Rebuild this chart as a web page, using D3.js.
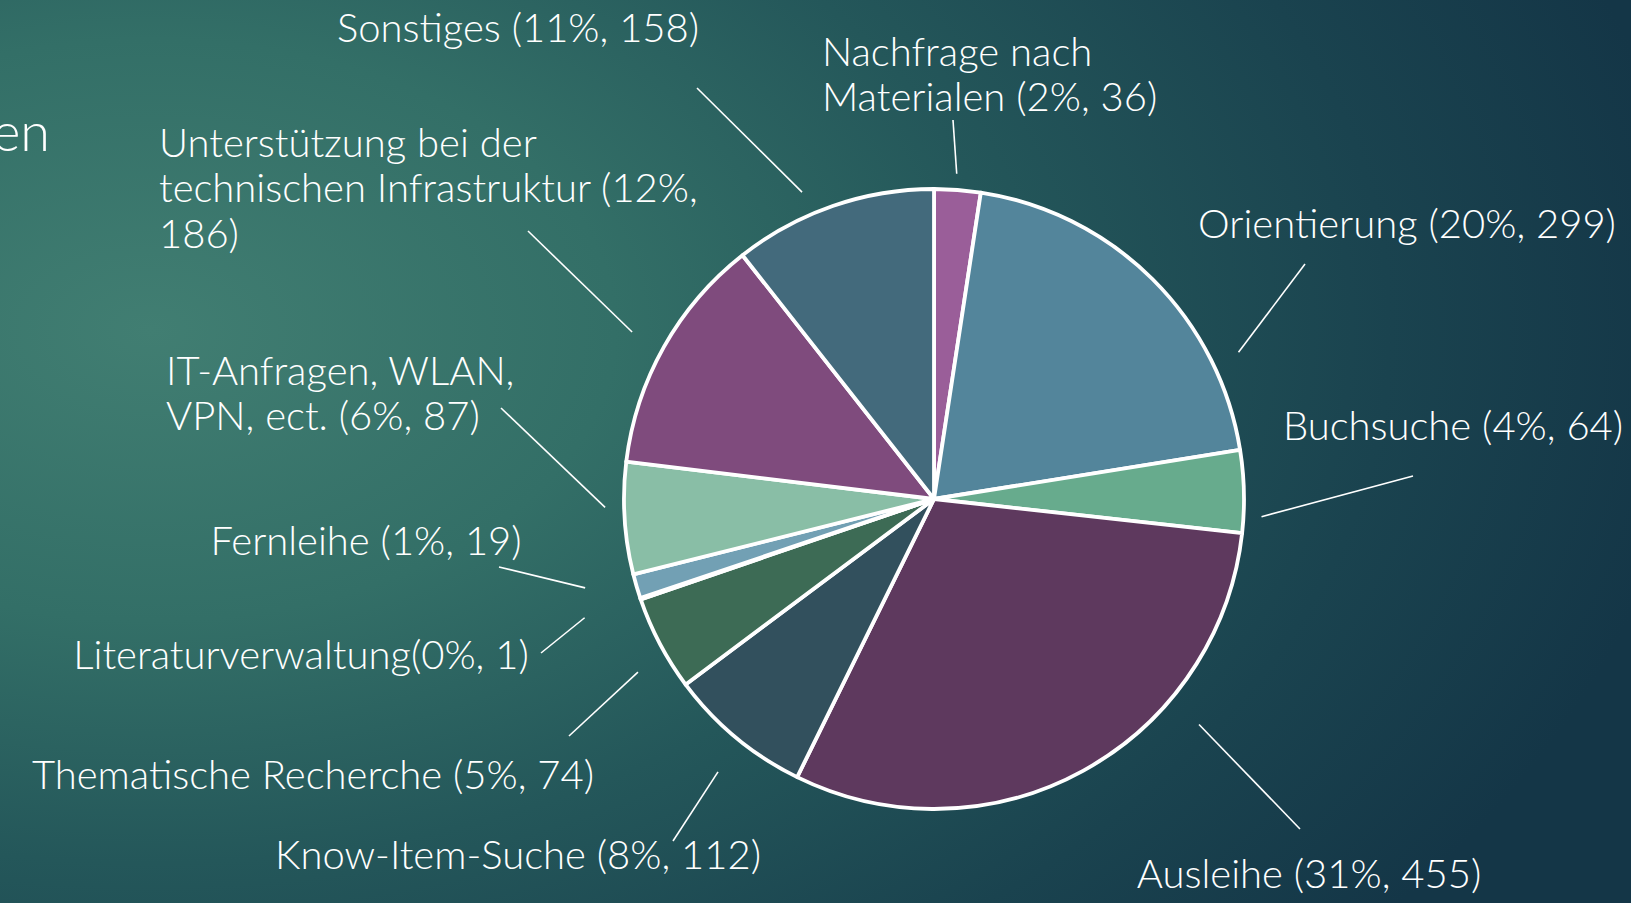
<!DOCTYPE html>
<html>
<head>
<meta charset="utf-8">
<script src="https://cdn.jsdelivr.net/npm/d3@7"></script>
<style>
  html, body { margin: 0; padding: 0; overflow: hidden; background: #143647; }
  text { font-family: Lato, Roboto, 'Noto Sans', sans-serif; font-weight: 300; fill: #ffffff; }
</style>
</head>
<body>
<div id="chart"></div>
<script>
'use strict'

// data, clockwise from 12 o'clock
const categories = [
  'Nachfrage nach Materialen',
  'Orientierung',
  'Buchsuche',
  'Ausleihe',
  'Know-Item-Suche',
  'Thematische Recherche',
  'Literaturverwaltung',
  'Fernleihe',
  'IT-Anfragen, WLAN, VPN, ect.',
  'Unterstützung bei der technischen Infrastruktur',
  'Sonstiges'];
const counts = [36, 299, 64, 455, 112, 74, 1, 19, 87, 186, 158];
const sliceColors = [
  '#9a5e99', '#53859b', '#67ab8d', '#5e395e', '#32505d', '#3d6b55',
  '#5d8f7c', '#72a0b4', '#89bea6', '#7f4b7d', '#436a7c'];
const titleFragment = 'en';

// label placement: pos = first line relative to pie centre, words = words per line,
// t / gap = where the leader line meets the slice, end = leader end near the label
const labelLayout = [
  { pos: [-112, -447], anchor: 'start', words: [2, 3], t: 0.46, gap: 16, end: [19, -379] },
  { pos: [473, -275], anchor: 'middle', words: null, t: 0.77, gap: 28, end: [371, -235] },
  { pos: [519, -73], anchor: 'middle', words: null, t: 0.79, gap: 18, end: [479, -23] },
  { pos: [375, 375], anchor: 'middle', words: null, t: 0.31, gap: 38, end: [366, 330] },
  { pos: [-416, 356], anchor: 'middle', words: null, t: 0.45, gap: 38, end: [-261, 342] },
  { pos: [-621, 276], anchor: 'middle', words: null, t: 0.36, gap: 33, end: [-365, 237] },
  { pos: [-633, 156], anchor: 'middle', words: null, t: 0.5, gap: 59, end: [-393, 154], sep: '' },
  { pos: [-568, 42], anchor: 'middle', words: null, t: 0.95, gap: 50, end: [-435, 68] },
  { pos: [-768, -128], anchor: 'start', words: [2, 4], t: 0.6, gap: 19, end: [-433, -91] },
  { pos: [-775, -356], anchor: 'start', words: [3, 3, 1], t: 0.49, gap: 35, end: [-406, -268] },
  { pos: [-416, -471], anchor: 'middle', words: null, t: 0.39, gap: 24, end: [-237, -411] }];

const width = 1631;
const height = 903;
const cx = 934;
const cy = 499;
const radius = 310;
const fontSize = 40;
const lineHeight = 45.5;

const total = d3.sum(counts);

const svg = d3.select('#chart')
  .append('svg')
    .attr('width', width)
    .attr('height', height);

// slide background
const grad = svg.append('defs')
  .append('radialGradient')
    .attr('id', 'bg')
    .attr('gradientUnits', 'userSpaceOnUse')
    .attr('cx', 150)
    .attr('cy', 330)
    .attr('r', 1550)
    .attr('gradientTransform', 'translate(150,330) scale(1,0.625) translate(-150,-330)');
[[0, '#417e72'], [0.3, '#336f67'], [0.55, '#24575a'], [0.8, '#1a434f'], [1, '#143647']]
  .forEach(s => grad.append('stop').attr('offset', s[0]).attr('stop-color', s[1]));

svg.append('rect')
  .attr('width', width)
  .attr('height', height)
  .attr('fill', 'url(#bg)');

svg.append('text')
  .attr('x', 50)
  .attr('y', 151)
  .attr('text-anchor', 'end')
  .style('font-size', '54px')
  .text(titleFragment);

const g = svg.append('g')
  .attr('transform', 'translate(' + cx + ',' + cy + ')');

const pie = d3.pie()
  .value(d => d)
  .sort(null);

const arc = d3.arc()
  .innerRadius(0)
  .outerRadius(radius);

const arcs = pie(counts);

g.selectAll('path.slice')
  .data(arcs)
  .enter()
  .append('path')
    .attr('class', 'slice')
    .attr('d', arc)
    .attr('fill', (d, i) => sliceColors[i])
    .attr('stroke', '#ffffff')
    .attr('stroke-width', 3.8)
    .attr('stroke-linejoin', 'round');

// leader lines
const polar = (a, r) => [r * Math.sin(a), -r * Math.cos(a)];

g.selectAll('line.leader')
  .data(arcs)
  .enter()
  .append('line')
    .attr('class', 'leader')
    .each(function (d, i) {
      const l = labelLayout[i];
      const a = d.startAngle + l.t * (d.endAngle - d.startAngle);
      const p = polar(a, radius + l.gap);
      d3.select(this)
        .attr('x1', p[0]).attr('y1', p[1])
        .attr('x2', l.end[0]).attr('y2', l.end[1]);
    })
    .attr('stroke', '#ffffff')
    .attr('stroke-width', 1.6);

// labels
const labelText = (i) => {
  const pct = Math.round(100 * counts[i] / total);
  const sep = labelLayout[i].sep === undefined ? ' ' : labelLayout[i].sep;
  return categories[i] + sep + '(' + pct + '%, ' + counts[i] + ')';
};

const splitLines = (str, words) => {
  if (!words) return [str];
  const parts = str.split(' ');
  const lines = [];
  let k = 0;
  words.forEach(n => {
    lines.push(parts.slice(k, k + n).join(' '));
    k += n;
  });
  return lines;
};

g.selectAll('text.label')
  .data(arcs)
  .enter()
  .append('text')
    .attr('class', 'label')
    .attr('text-anchor', (d, i) => labelLayout[i].anchor)
    .style('font-size', fontSize + 'px')
    .each(function (d, i) {
      const l = labelLayout[i];
      const lines = splitLines(labelText(i), l.words);
      d3.select(this).selectAll('tspan')
        .data(lines)
        .enter()
        .append('tspan')
          .attr('x', l.pos[0])
          .attr('y', (s, j) => l.pos[1] + fontSize * 0.34 + j * lineHeight)
          .text(s => s);
    });
</script>
</body>
</html>
